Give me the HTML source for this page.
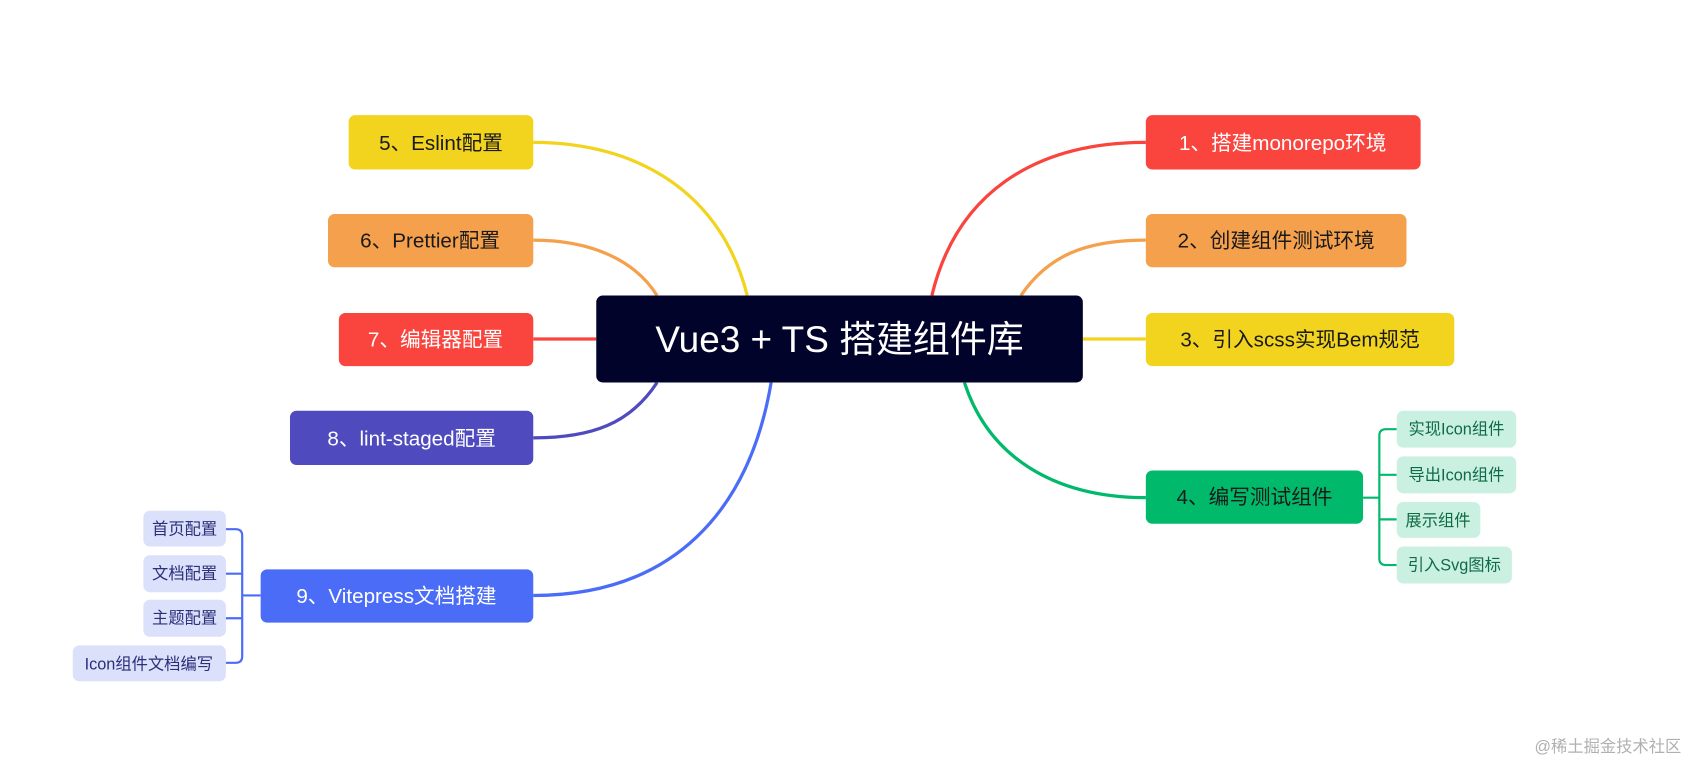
<!DOCTYPE html>
<html><head><meta charset="utf-8"><style>
html,body{margin:0;padding:0;background:#fff;}
svg{display:block;}
text{font-family:"Liberation Sans","Noto Sans CJK SC",sans-serif;}
</style></head><body>
<svg width="1703" height="778" viewBox="0 0 1568 716" preserveAspectRatio="none" xmlns="http://www.w3.org/2000/svg">
<g fill="none" stroke-width="3">
<path d="M858,272 C880,180 950,131 1055,131" stroke="#f9453d"/>
<path d="M940,272 C965,235 1000,221 1055,221" stroke="#f5a04c"/>
<path d="M997,312 L1055,312" stroke="#f2d41f"/>
<path d="M888,352 C910,420 970,458 1055,458" stroke="#00b96b"/>
<path d="M688,272 C665,180 590,131 491,131" stroke="#f2d41f"/>
<path d="M605,272 C585,240 545,221 491,221" stroke="#f5a04c"/>
<path d="M491,312 L549,312" stroke="#f9453d"/>
<path d="M605,352 C580,390 545,403 491,403" stroke="#4f4bbf"/>
<path d="M710,352 C690,470 620,548 491,548" stroke="#4a6cf7"/>
</g>
<g fill="none" stroke="#00b96b" stroke-width="2">
<path d="M1255,458 L1270,458"/>
<path d="M1286,395 L1276,395 Q1270,395 1270,401 L1270,514 Q1270,520 1276,520 L1286,520"/>
<path d="M1270,437 L1286,437 M1270,478 L1286,478"/>
</g>
<g fill="none" stroke="#4a6cf7" stroke-width="2">
<path d="M240,548 L223,548"/>
<path d="M208,487 L217,487 Q223,487 223,493 L223,604 Q223,610 217,610 L208,610"/>
<path d="M223,528 L208,528 M223,569 L208,569"/>
</g>
<rect x="549" y="272" width="448" height="80" rx="6" fill="#02032a"/>
<text x="773" y="324" font-size="34" fill="#fff" text-anchor="middle">Vue3 + TS 搭建组件库</text>
<g font-size="19">
<rect x="1055" y="106" width="253" height="50" rx="6" fill="#f9453d"/><text x="1181" y="138" fill="#fff" text-anchor="middle">1、搭建monorepo环境</text>
<rect x="1055" y="197" width="240" height="49" rx="6" fill="#f5a04c"/><text x="1175" y="228" fill="#1a1a1a" text-anchor="middle">2、创建组件测试环境</text>
<rect x="1055" y="288" width="284" height="49" rx="6" fill="#f2d41f"/><text x="1197" y="319" fill="#1a1a1a" text-anchor="middle">3、引入scss实现Bem规范</text>
<rect x="1055" y="433" width="200" height="49" rx="6" fill="#00b96b"/><text x="1155" y="464" fill="#1a1a1a" text-anchor="middle">4、编写测试组件</text>
<rect x="321" y="106" width="170" height="50" rx="6" fill="#f2d41f"/><text x="406" y="138" fill="#1a1a1a" text-anchor="middle">5、Eslint配置</text>
<rect x="302" y="197" width="189" height="49" rx="6" fill="#f5a04c"/><text x="396" y="228" fill="#1a1a1a" text-anchor="middle">6、Prettier配置</text>
<rect x="312" y="288" width="179" height="49" rx="6" fill="#f9453d"/><text x="401" y="319" fill="#fff" text-anchor="middle">7、编辑器配置</text>
<rect x="267" y="378" width="224" height="50" rx="6" fill="#4f4bbf"/><text x="379" y="410" fill="#fff" text-anchor="middle">8、lint-staged配置</text>
<rect x="240" y="524" width="251" height="49" rx="6" fill="#4a6cf7"/><text x="365" y="555" fill="#fff" text-anchor="middle">9、Vitepress文档搭建</text>
</g>
<g font-size="15" fill="#0f6b45">
<rect x="1286" y="378" width="110" height="34" rx="6" fill="#c9f0e0"/><text x="1341" y="400" text-anchor="middle">实现Icon组件</text>
<rect x="1286" y="420" width="110" height="34" rx="6" fill="#c9f0e0"/><text x="1341" y="442" text-anchor="middle">导出Icon组件</text>
<rect x="1286" y="462" width="77" height="33" rx="6" fill="#c9f0e0"/><text x="1324" y="484" text-anchor="middle">展示组件</text>
<rect x="1286" y="503" width="106" height="34" rx="6" fill="#c9f0e0"/><text x="1339" y="525" text-anchor="middle">引入Svg图标</text>
</g>
<g font-size="15" fill="#2a2f7a">
<rect x="132" y="470" width="76" height="33" rx="6" fill="#dbe0fb"/><text x="170" y="492" text-anchor="middle">首页配置</text>
<rect x="132" y="511" width="76" height="34" rx="6" fill="#dbe0fb"/><text x="170" y="533" text-anchor="middle">文档配置</text>
<rect x="132" y="552" width="76" height="34" rx="6" fill="#dbe0fb"/><text x="170" y="574" text-anchor="middle">主题配置</text>
<rect x="67" y="594" width="141" height="33" rx="6" fill="#dbe0fb"/><text x="137" y="616" text-anchor="middle">Icon组件文档编写</text>
</g>
<text x="1548" y="692" font-size="15" fill="#b0b0b0" text-anchor="end">@稀土掘金技术社区</text>
</svg>
</body></html>
